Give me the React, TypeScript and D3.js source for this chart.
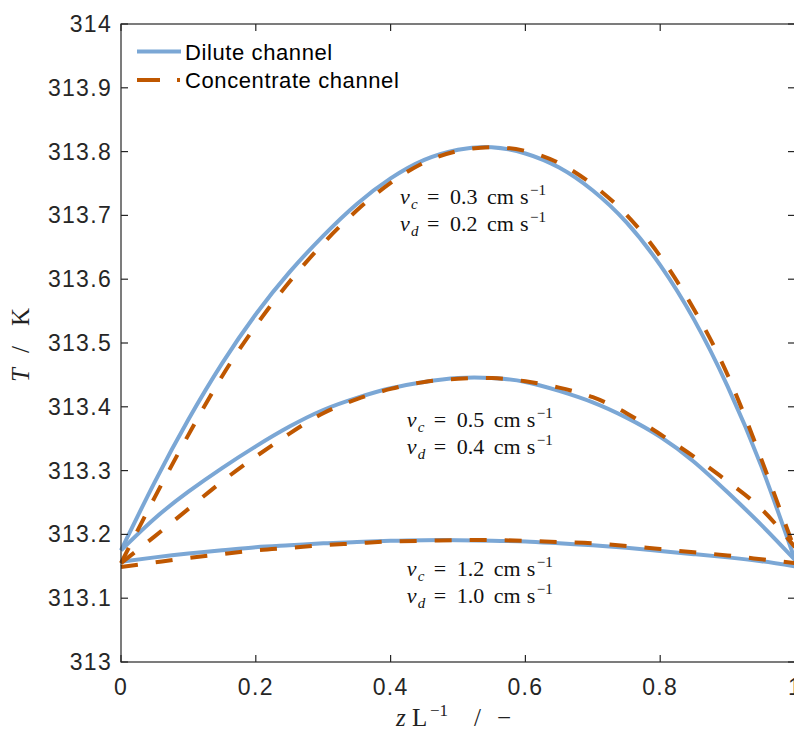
import * as d3 from "d3";

const zGrid = [0, 0.05, 0.1, 0.15, 0.2, 0.25, 0.3, 0.35, 0.4, 0.45, 0.5, 0.55, 0.6, 0.65, 0.7, 0.75, 0.8, 0.85, 0.9, 0.95, 1];

// vc = 0.3, vd = 0.2
const dilute1 = [313.175, 313.282, 313.38, 313.468, 313.545, 313.611, 313.668, 313.718, 313.758, 313.787, 313.803, 313.807, 313.797, 313.775, 313.739, 313.689, 313.622, 313.537, 313.432, 313.307, 313.16];
const conc1 = [313.155, 313.258, 313.356, 313.448, 313.527, 313.596, 313.656, 313.708, 313.751, 313.783, 313.801, 313.807, 313.801, 313.782, 313.748, 313.701, 313.636, 313.553, 313.45, 313.318, 313.175];

// vc = 0.5, vd = 0.4
const dilute2 = [313.175, 313.225, 313.267, 313.304, 313.338, 313.369, 313.395, 313.414, 313.429, 313.439, 313.445, 313.445, 313.439, 313.425, 313.407, 313.383, 313.353, 313.314, 313.266, 313.215, 313.16];
const conc2 = [313.155, 313.197, 313.24, 313.283, 313.322, 313.358, 313.39, 313.412, 313.428, 313.439, 313.444, 313.445, 313.44, 313.43, 313.415, 313.39, 313.357, 313.322, 313.283, 313.24, 313.18];

// vc = 1.2, vd = 1.0
const dilute3 = [313.157, 313.164, 313.17, 313.175, 313.18, 313.183, 313.186, 313.188, 313.19, 313.191, 313.191, 313.19, 313.189, 313.186, 313.183, 313.179, 313.174, 313.169, 313.164, 313.158, 313.15];
const conc3 = [313.149, 313.156, 313.163, 313.169, 313.175, 313.179, 313.183, 313.186, 313.189, 313.19, 313.191, 313.191, 313.19, 313.188, 313.186, 313.182, 313.177, 313.172, 313.167, 313.161, 313.155];

const xTicks = [0, 0.2, 0.4, 0.6, 0.8, 1];
const yTicks = [313, 313.1, 313.2, 313.3, 313.4, 313.5, 313.6, 313.7, 313.8, 313.9, 314];

const annotations = [
  { vc: "0.3", vd: "0.2", z: 0.414, T: 313.718 },
  { vc: "0.5", vd: "0.4", z: 0.424, T: 313.368 },
  { vc: "1.2", vd: "1.0", z: 0.424, T: 313.135 },
];

const BLUE = "#7ba7d5";
const ORANGE = "#bf5700";
const AXIS = "#262626";

export default function App() {
  const W = 794;
  const H = 731;
  const margin = { top: 24, right: -1, bottom: 69, left: 121 };
  const iw = W - margin.left - margin.right;
  const ih = H - margin.top - margin.bottom;

  const x = d3.scaleLinear().domain([0, 1]).range([0, iw]);
  const y = d3.scaleLinear().domain([313, 314]).range([ih, 0]);

  const line = d3
    .line<number>()
    .x((_, i) => x(zGrid[i]))
    .y((d) => y(d))
    .curve(d3.curveNatural);

  const blues = [dilute1, dilute2, dilute3];
  const oranges = [conc1, conc2, conc3];

  const tickFont = { fontFamily: "Liberation Sans, Arial, sans-serif", fontSize: 23, letterSpacing: 1.3 };
  const legendFont = { fontFamily: "Liberation Sans, Arial, sans-serif", fontSize: 22, letterSpacing: 0.6 };
  const serif = "Liberation Serif, DejaVu Serif, serif";

  return (
    <svg width={W} height={H} style={{ position: "absolute", left: 0, top: 0, background: "#fff" }}>
      <rect width={W} height={H} fill="#fff" />
      <g transform={`translate(${margin.left},${margin.top})`}>
        {/* curves */}
        {blues.map((s, i) => (
          <path key={"b" + i} d={line(s) || ""} fill="none" stroke={BLUE} strokeWidth={4} />
        ))}
        {oranges.map((s, i) => (
          <path key={"o" + i} d={line(s) || ""} fill="none" stroke={ORANGE} strokeWidth={4} strokeDasharray="17,18" />
        ))}

        {/* axes box */}
        <rect x={0} y={0} width={iw} height={ih} fill="none" stroke={AXIS} strokeWidth={1.2} />
        {xTicks.map((t) => (
          <g key={"x" + t}>
            <line x1={x(t)} x2={x(t)} y1={ih} y2={ih - 7} stroke={AXIS} strokeWidth={1.2} />
            <line x1={x(t)} x2={x(t)} y1={0} y2={7} stroke={AXIS} strokeWidth={1.2} />
            <text x={x(t)} y={ih + 33} textAnchor="middle" fill={AXIS} style={tickFont}>
              {t}
            </text>
          </g>
        ))}
        {yTicks.map((t) => (
          <g key={"y" + t}>
            <line x1={0} x2={7} y1={y(t)} y2={y(t)} stroke={AXIS} strokeWidth={1.2} />
            <line x1={iw} x2={iw - 7} y1={y(t)} y2={y(t)} stroke={AXIS} strokeWidth={1.2} />
            <text x={-9} y={y(t) + 8} textAnchor="end" fill={AXIS} style={tickFont}>
              {d3.format(".10~f")(t)}
            </text>
          </g>
        ))}

        {/* annotations */}
        {annotations.map((a, i) => {
          const x0 = x(a.z);
          const rows = [
            { sub: "c", val: a.vc, by: y(a.T) },
            { sub: "d", val: a.vd, by: y(a.T) + 27 },
          ];
          return (
            <g key={"a" + i} fontFamily={serif} fontSize={22} fill="#111">
              {rows.map((r) => (
                <text key={r.sub} y={r.by}>
                  <tspan x={x0} fontStyle="italic">v</tspan>
                  <tspan x={x0 + 11} dy={5} fontSize={15} fontStyle="italic">{r.sub}</tspan>
                  <tspan x={x0 + 27} dy={-5}>=</tspan>
                  <tspan x={x0 + 50}>{r.val}</tspan>
                  <tspan x={x0 + 87}>cm</tspan>
                  <tspan x={x0 + 120}>s</tspan>
                  <tspan x={x0 + 130} dy={-9} fontSize={15}>−1</tspan>
                </text>
              ))}
            </g>
          );
        })}
      </g>

      {/* legend */}
      <line x1={137} x2={181} y1={51.5} y2={51.5} stroke={BLUE} strokeWidth={4} />
      <line x1={137} x2={181} y1={80} y2={80} stroke={ORANGE} strokeWidth={4} strokeDasharray="23,17,3" />
      <text x={185} y={60} style={legendFont} fill="#000">
        Dilute channel
      </text>
      <text x={185} y={88} style={legendFont} fill="#000">
        Concentrate channel
      </text>

      {/* axis labels */}
      <text transform="translate(29,382) rotate(-90)" fontFamily={serif} fontSize={25} fill="#222">
        <tspan x={0} fontStyle="italic">T</tspan>
        <tspan x={29}>/</tspan>
        <tspan x={56}>K</tspan>
      </text>
      <text y={726} fontFamily={serif} fontSize={25} fill="#222">
        <tspan x={396} fontStyle="italic">z</tspan>
        <tspan x={412}>L</tspan>
        <tspan x={430} dy={-10} fontSize={17}>−1</tspan>
        <tspan x={474} dy={10}>/</tspan>
        <tspan x={497}>−</tspan>
      </text>
    </svg>
  );
}
